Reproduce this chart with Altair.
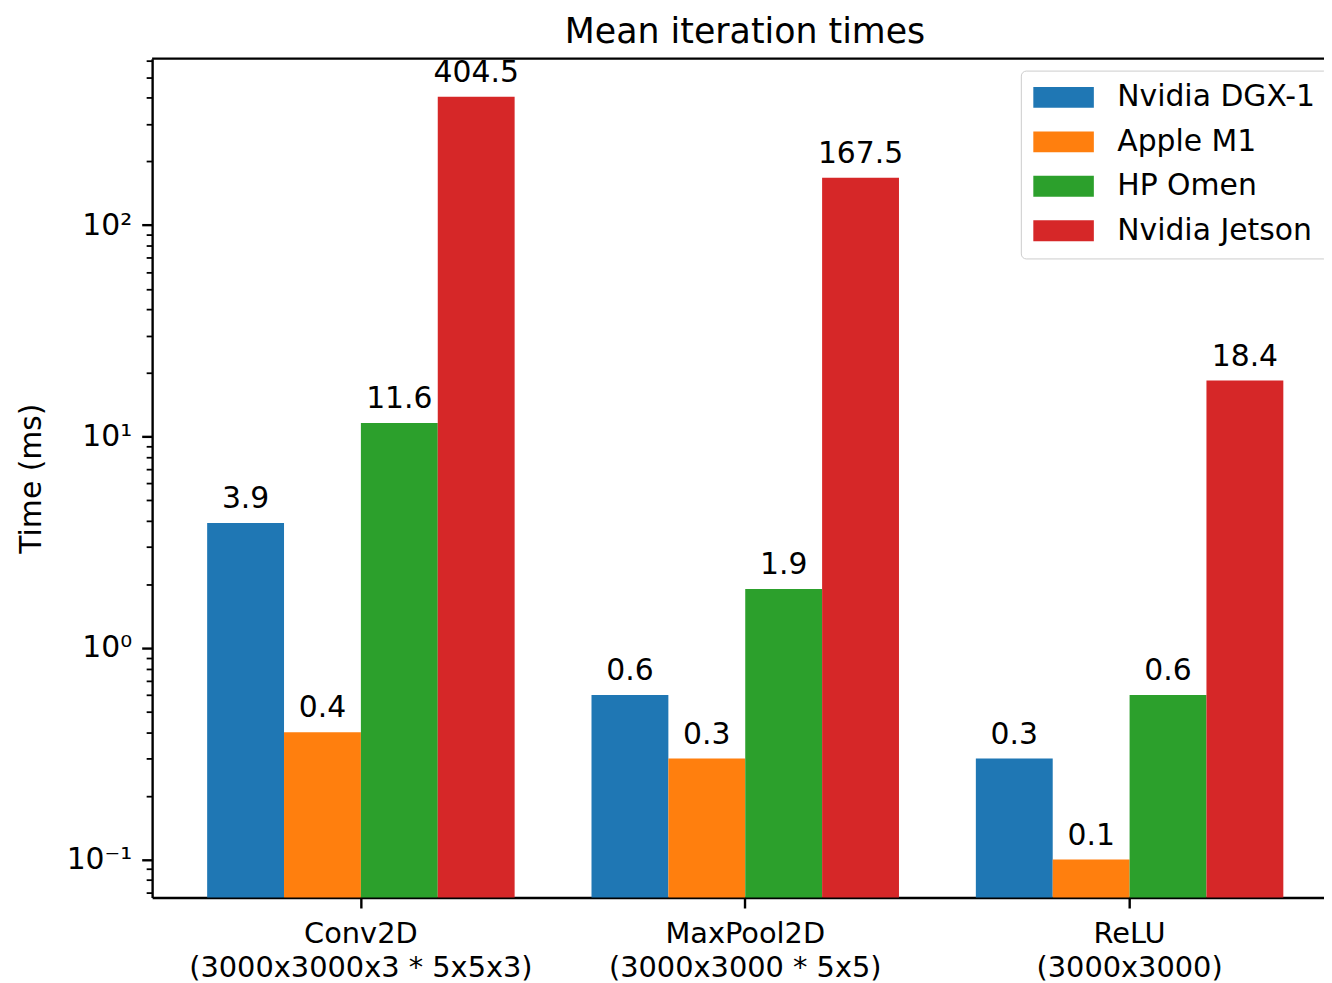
import altair as alt
import pandas as pd

categories = ["Conv2D\n(3000x3000x3 * 5x5x3)", "MaxPool2D\n(3000x3000 * 5x5)", "ReLU\n(3000x3000)"]
series = ["Nvidia DGX-1", "Apple M1", "HP Omen", "Nvidia Jetson"]
dgx = [3.9, 0.6, 0.3]
m1 = [0.4, 0.3, 0.1]
omen = [11.6, 1.9, 0.6]
jetson = [404.5, 167.5, 18.4]
colors = ["#1f77b4", "#ff7f0e", "#2ca02c", "#d62728"]
major_ticks = [0.1, 1, 10, 100]
minor_ticks = [0.07, 0.08, 0.09,
               0.2, 0.3, 0.4, 0.5, 0.6, 0.7, 0.8, 0.9,
               2, 3, 4, 5, 6, 7, 8, 9,
               20, 30, 40, 50, 60, 70, 80, 90,
               200, 300, 400, 500, 600]
y_domain = [0.06601, 612.9]

rows = []
for s, vals in zip(series, [dgx, m1, omen, jetson]):
    for c, v in zip(categories, vals):
        rows.append({"cat": c, "series": s, "value": v})
df = pd.DataFrame(rows)

W, H = 1179, 844
FONT = "DejaVu Sans"

x_enc = alt.X("cat:N", sort=categories, title=None,
              scale=alt.Scale(paddingInner=0.2, paddingOuter=0.1245, align=0.575),
              axis=alt.Axis(labelAngle=0, labelExpr="split(datum.label, '\\n')",
                            labelFontSize=29, labelFont=FONT, labelColor="black",
                            labelLineHeight=34, labelPadding=11.5, labelBaseline="top",
                            labelLimit=800,
                            tickSize=10.5, tickWidth=2.4, tickColor="black",
                            domainColor="black", domainWidth=2.4))
xoff = alt.XOffset("series:N", sort=series, scale=alt.Scale(paddingInner=0, paddingOuter=0))

major_test = "indexof([0.1, 1, 10, 100], datum.value) >= 0"
label_expr = ("datum.value == 100 ? '10²' : datum.value == 10 ? '10¹' : "
              "datum.value == 1 ? '10⁰' : datum.value == 0.1 ? '10⁻¹' : ''")

y_enc = alt.Y("value:Q", title="Time (ms)",
              scale=alt.Scale(type="log", domain=y_domain, nice=False),
              axis=alt.Axis(values=sorted(major_ticks + minor_ticks), labelExpr=label_expr,
                            labelOverlap=False, grid=False,
                            labelFontSize=30, labelFont=FONT, labelColor="black", labelPadding=10,
                            tickSize={"condition": {"test": major_test, "value": 10.5}, "value": 6},
                            tickWidth={"condition": {"test": major_test, "value": 2.4}, "value": 1.8},
                            tickColor="black", domainColor="black", domainWidth=2.4,
                            titleFontSize=30, titleFont=FONT, titleFontWeight="normal",
                            titleColor="black", titlePadding=20))

color_enc = alt.Color("series:N", sort=series, title=None,
                      scale=alt.Scale(domain=series, range=colors),
                      legend=alt.Legend(orient="none", legendX=874, legendY=12, direction="vertical",
                                        symbolType="M-2.9,-1H2.9V1H-2.9Z", symbolSize=441,
                                        symbolStrokeWidth=0, symbolOpacity=1, symbolOffset=16,
                                        labelFont=FONT, labelFontSize=30, labelColor="black",
                                        labelOffset=39, rowPadding=14.7, padding=12,
                                        fillColor="white", strokeColor="#cccccc",
                                        cornerRadius=5, labelLimit=400))

base = alt.Chart(df)

bars = base.mark_bar().encode(
    x=x_enc, xOffset=xoff, y=y_enc, y2=alt.datum(y_domain[0]), color=color_enc)

labels = base.mark_text(baseline="alphabetic", dy=-15, fontSize=30, font=FONT, color="black").encode(
    x=alt.X("cat:N", sort=categories), xOffset=xoff,
    y=alt.Y("value:Q"), text=alt.Text("value:Q", format=".1f"))

top_spine = alt.Chart(pd.DataFrame({"a": [0]})).mark_rule(color="black", strokeWidth=2.4).encode(
    x=alt.value(0), x2=alt.value(W), y=alt.value(0))

chart = alt.layer(bars, labels, top_spine).properties(
    width=W, height=H,
    autosize=alt.AutoSizeParams(type="none"),
    padding={"left": 145, "top": 48, "right": 0, "bottom": 86},
    title=alt.TitleParams("Mean iteration times", fontSize=35, font=FONT, fontWeight="normal",
                          color="black", dx=7, offset=-4, frame="group"),
).configure_view(stroke=None)

chart.save("out.html", embed_options={"renderer": "svg", "actions": False})
